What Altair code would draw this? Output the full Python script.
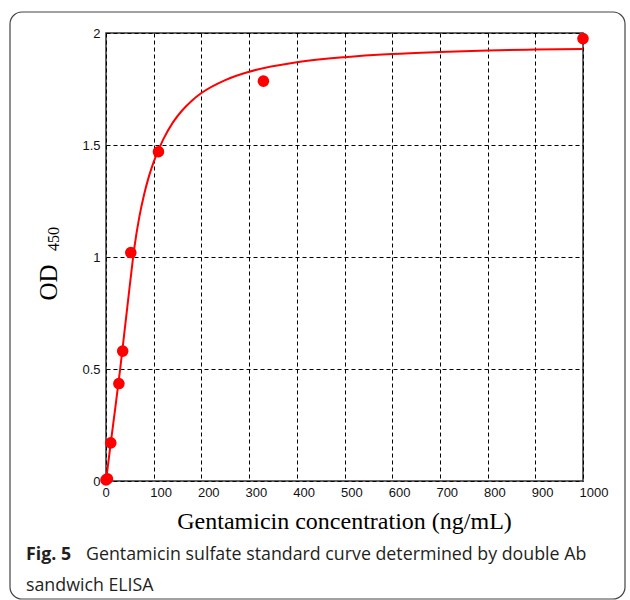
import altair as alt
import pandas as pd

# measured standards
conc = [0, 3, 10, 27, 35, 52, 110, 330, 1000]
od = [0.005, 0.01, 0.17, 0.435, 0.58, 1.02, 1.47, 1.785, 1.975]

# fitted curve
fit_x = [0, 10, 20, 30, 40, 50, 60, 70, 80, 90, 100, 120, 140, 160, 180, 200,
         250, 300, 400, 500, 600, 700, 800, 900, 1000]
fit_y = [0.0, 0.17, 0.335, 0.505, 0.69, 0.875, 1.05, 1.18, 1.28, 1.36, 1.425,
         1.525, 1.6, 1.655, 1.698, 1.732, 1.79, 1.827, 1.869, 1.892, 1.906,
         1.915, 1.922, 1.926, 1.929]

x_ticks = [0, 100, 200, 300, 400, 500, 600, 700, 800, 900, 1000]
y_ticks = [0, 0.5, 1, 1.5, 2]

x_title = "Gentamicin concentration (ng/mL)"
y_title = "OD"
y_sub = "450"
cap_bold = "Fig. 5"
cap_line1 = "Gentamicin sulfate standard curve determined by double Ab"
cap_line2 = "sandwich ELISA"

pts = pd.DataFrame({"conc": conc, "od": od})
fit = pd.DataFrame({"conc": fit_x, "od": fit_y})

W, H = 477, 448
PL, PT = 106, 33

xs = alt.Scale(domain=[0, 1000], nice=False)
ys = alt.Scale(domain=[0, 2], nice=False)

xax = alt.Axis(values=x_ticks, title=None, grid=True, ticks=False, domain=False,
               format="d", labelAlign="left", labelOffset=-4, labelPadding=5, labelFlush=False)
yax = alt.Axis(values=y_ticks, title=None, grid=True, ticks=False, domain=False,
               format="~g", labelPadding=6, labelFlush=False)

line = alt.Chart(fit).mark_line(color="#ff0000", strokeWidth=2, interpolate="monotone").encode(
    x=alt.X("conc:Q", scale=xs, axis=xax),
    y=alt.Y("od:Q", scale=ys, axis=yax),
)
points = alt.Chart(pts).mark_point(filled=True, color="#ff0000", size=135, opacity=1, shape="circle").encode(
    x=alt.X("conc:Q", scale=xs),
    y=alt.Y("od:Q", scale=ys),
)

def txt(s, x, y, **kw):
    return alt.Chart(pd.DataFrame({"t": [s]})).mark_text(**kw).encode(
        x=alt.value(x), y=alt.value(y), text="t:N")

frame = alt.Chart(pd.DataFrame({"a": [0]})).mark_rect(
    fillOpacity=0, stroke="#444444", strokeWidth=1.2, cornerRadius=12).encode(
    x=alt.value(10 - PL), x2=alt.value(625 - PL),
    y=alt.value(12 - PT), y2=alt.value(599 - PT))

serif = "Liberation Serif"
capfont = "Open Sans"

layers = [
    frame, line, points,
    txt(x_title, 344.5 - PL, 521.5 - PT, font=serif, fontSize=24, align="center", baseline="middle", color="#000"),
    txt(y_title, 56.5 - PL, 282.5 - PT, font=serif, fontSize=25, angle=270, align="center", baseline="alphabetic", color="#000"),
    txt(y_sub, 58.5 - PL, 239 - PT, font=serif, fontSize=16, angle=270, align="center", baseline="alphabetic", color="#000"),
    txt(cap_bold, 26 - PL, 560 - PT, font=capfont, fontSize=17.8, fontWeight="bold", align="left", baseline="alphabetic", color="#231f20"),
    txt(cap_line1, 86 - PL, 560 - PT, font=capfont, fontSize=17.8, align="left", baseline="alphabetic", color="#231f20"),
    txt(cap_line2, 26 - PL, 591 - PT, font=capfont, fontSize=17.8, align="left", baseline="alphabetic", color="#231f20"),
]

chart = alt.layer(*layers).properties(
    width=W, height=H,
    autosize=alt.AutoSizeParams(type="none"),
    padding={"left": PL, "top": PT, "right": 630 - PL - W, "bottom": 600 - PT - H},
    background="white",
).configure_view(stroke="#333333", strokeWidth=1.5).configure_axis(
    labelFont="Liberation Sans", labelFontSize=13, labelColor="#111111",
    gridColor="#000000", gridDash=[4, 3], gridWidth=1, gridOpacity=1,
)

chart.save("out.html", embed_options={"renderer": "svg", "actions": False})
